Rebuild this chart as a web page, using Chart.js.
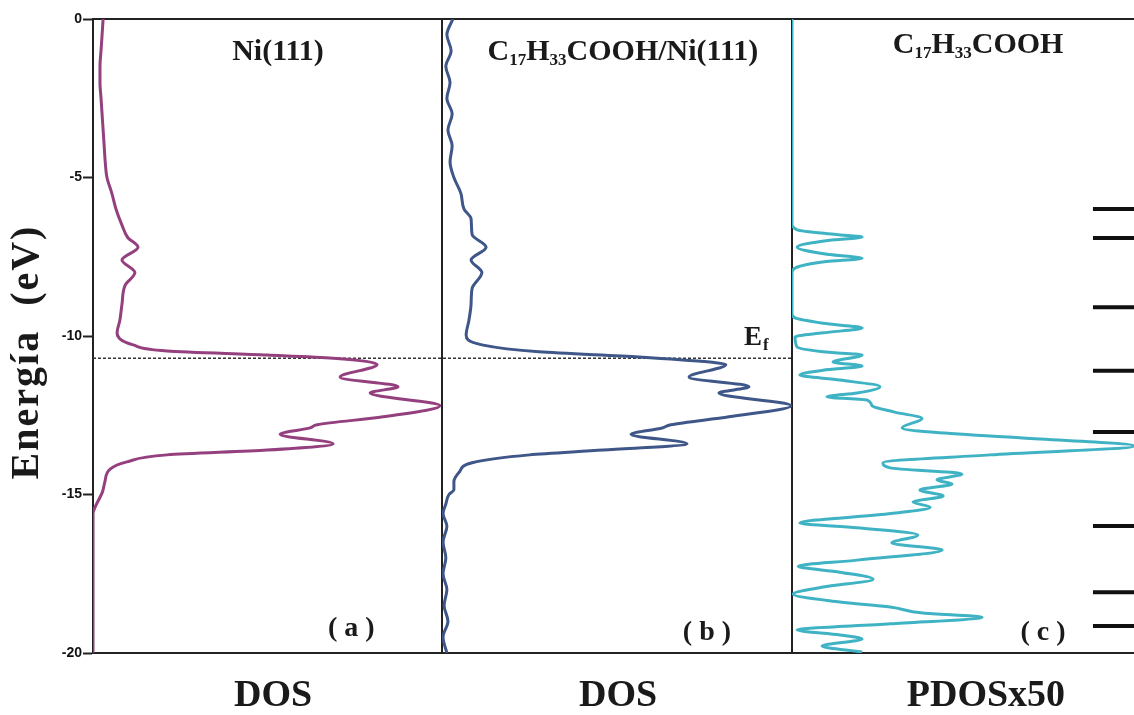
<!DOCTYPE html>
<html>
<head>
<meta charset="utf-8">
<script src="https://cdn.jsdelivr.net/npm/chart.js@4.4.1/dist/chart.umd.min.js"></script>
<style>
  html, body { margin: 0; padding: 0; background: #fff; }
  #wrap { position: relative; width: 1134px; height: 715px; }
</style>
</head>
<body>
<div id="wrap"><canvas id="dosChart"></canvas></div>
<script>
// energy tick labels (eV)
const energyTicks = [0, -5, -10, -15, -20];
const fermiLevel = -10.7;

// (a) Ni(111) DOS
const niEnergy = [0, -0.5, -1, -1.5, -2, -2.5, -3, -3.5, -4, -4.5, -5, -5.5, -6, -6.5, -6.9, -7.2, -7.6, -8.0, -8.4, -9.0, -9.5, -9.9,
  -10.28, -10.47, -10.6, -10.7, -10.9, -11.3, -11.6, -11.8, -12.2, -12.55, -12.8, -12.9, -13.1, -13.4, -13.6, -13.75, -13.97,
  -14.2, -14.6, -14.8, -14.95, -15.4, -15.6, -20];
const niDos = [2.9, 2.6, 2.3, 2.0, 2.0, 2.3, 2.6, 2.9, 3.2, 3.5, 4.0, 5.4, 6.6, 8.3, 10.0, 12.9, 8.3, 12.0, 9.2, 8.3, 7.7, 6.9,
  11.5, 21.2, 49.9, 68.8, 81.4, 70.8, 87.4, 79.4, 99.4, 83.1, 64.2, 62.2, 53.6, 68.8, 49.9, 21.2, 9.7,
  4.9, 3.4, 3.0, 2.6, 0.6, 0, 0];

// (b) C17H33COOH/Ni(111) DOS
const adsEnergy = [0, -0.5, -1, -1.5, -2, -2.5, -3, -3.5, -4, -4.5, -5, -5.5, -6, -6.3, -6.8, -7.2, -7.6, -8.0, -8.5, -9.0, -9.5, -9.97,
  -10.28, -10.5, -10.66, -10.75, -10.9, -11.3, -11.6, -11.8, -12.2, -12.55, -12.8, -12.9, -13.1, -13.4, -13.6, -13.75, -14.0,
  -14.3, -14.6, -14.85, -15.0, -15.3, -15.6, -16, -16.5, -17, -17.5, -18, -18.5, -19, -19.5, -20];
const adsDos = [3.1, 1.4, 2.6, 1.1, 2.3, 1.4, 2.9, 1.7, 2.9, 2.3, 3.4, 5.4, 6.3, 8.3, 8.6, 12.6, 8.3, 11.4, 8.6, 8.3, 7.7, 6.9,
  11.4, 27.7, 56.3, 68, 81.1, 70.6, 87.7, 79.1, 99.7, 82, 65.4, 62.9, 54.0, 70.0, 46, 25, 8.6,
  4.9, 3.4, 3.4, 2.0, 1.1, 0.3, 1.4, 0.3, 1.1, 0.3, 1.4, 0.6, 1.7, 0.3, 1.4];

// (c) C17H33COOH PDOS x50
const molEnergy = [0, -6.45, -6.65, -6.8, -6.88, -6.98, -7.2, -7.43, -7.55, -7.65, -7.85, -8.0, -9.3, -9.43, -9.6, -9.75, -9.9, -10.03,
  -10.35, -10.5, -10.6, -10.82, -10.95, -11.08, -11.23, -11.39, -11.6, -11.8, -11.92, -12.02, -12.2, -12.4, -12.6, -12.9, -13.03,
  -13.22, -13.47, -13.75, -14.0, -14.16, -14.35, -14.54, -14.67, -14.86, -15.05, -15.24, -15.4, -15.6, -15.9, -16.05, -16.28,
  -16.53, -16.75, -17.07, -17.26, -17.45, -17.67, -17.92, -18.14, -18.39, -18.55, -18.74, -18.87, -19.08, -19.27, -19.43, -19.56,
  -19.78, -19.97];
const molDos = [0, 0, 1.5, 13, 20.5, 11, 1.5, 11, 20.5, 10, 1, 0, 0, 0.9, 9.1, 20.5, 9.1, 0.9,
  1.5, 9.1, 20.5, 12, 20.5, 9.1, 2.3, 14, 25.7, 19, 10.2, 22, 23.4, 30, 38, 32.2, 40.4,
  67.5, 100, 57.9, 26.6, 28.7, 49.7, 42.4, 46.8, 37.4, 44.2, 35.4, 40.4, 29, 2.3, 19, 36.8,
  29.2, 43.9, 19, 1.8, 14, 23.7, 9.1, 0.3, 14, 28.7, 38.3, 55.6, 28.7, 1.5, 14, 20.5,
  8.8, 20.5];

// molecular energy levels (right side bars)
const levelEnergies = [-5.99, -6.91, -9.09, -11.1, -13.03, -15.99, -18.08, -19.15];

const toPoints = (es, ds) => es.map((e, i) => ({ x: ds[i], y: e }));

const serif = '"Liberation Serif", "Times New Roman", serif';

function drawRich(ctx, parts, cx, baseline, size, subSize) {
  const big = `bold ${size}px ${serif}`;
  const small = `bold ${subSize}px ${serif}`;
  let w = 0;
  parts.forEach(p => { ctx.font = p.sub ? small : big; w += ctx.measureText(p.t).width; });
  let x = cx - w / 2;
  ctx.textAlign = 'left';
  ctx.textBaseline = 'alphabetic';
  parts.forEach(p => {
    ctx.font = p.sub ? small : big;
    ctx.fillText(p.t, x, p.sub ? baseline + size * 0.18 : baseline);
    x += ctx.measureText(p.t).width;
  });
}

const decor = {
  id: 'decor',
  beforeDatasetsDraw(chart) {
    const { ctx, chartArea, scales } = chart;
    const { xa, xb, xc, y } = scales;
    ctx.save();
    ctx.strokeStyle = '#222';
    ctx.lineWidth = 2;
    // top border and panel separators
    ctx.beginPath();
    ctx.moveTo(chartArea.left, chartArea.top);
    ctx.lineTo(chart.width, chartArea.top);
    ctx.moveTo(xa.right, chartArea.top);
    ctx.lineTo(xa.right, chartArea.bottom);
    ctx.moveTo(xb.right, chartArea.top);
    ctx.lineTo(xb.right, chartArea.bottom);
    ctx.stroke();
    // Fermi level
    const yf = y.getPixelForValue(fermiLevel);
    ctx.setLineDash([3, 2]);
    ctx.lineWidth = 1.5;
    ctx.strokeStyle = '#333';
    ctx.beginPath();
    ctx.moveTo(xa.left, yf);
    ctx.lineTo(xb.right, yf);
    ctx.stroke();
    ctx.setLineDash([]);
    // energy levels in panel (c)
    ctx.strokeStyle = '#111';
    ctx.lineWidth = 4;
    ctx.beginPath();
    levelEnergies.forEach(e => {
      const py = y.getPixelForValue(e);
      ctx.moveTo(xc.getPixelForValue(88), py);
      ctx.lineTo(xc.right, py);
    });
    ctx.stroke();
    ctx.restore();
  },
  afterDraw(chart) {
    const { ctx, scales } = chart;
    const { xa, xb, xc, y } = scales;
    ctx.save();
    ctx.fillStyle = '#1a1a1a';
    // panel titles
    drawRich(ctx, [{ t: 'Ni(111)' }], xa.getPixelForValue(53), 60, 30, 17);
    drawRich(ctx, [{ t: 'C' }, { t: '17', sub: true }, { t: 'H' }, { t: '33', sub: true }, { t: 'COOH/Ni(111)' }],
      xb.getPixelForValue(51.7), 60, 30, 17);
    drawRich(ctx, [{ t: 'C' }, { t: '17', sub: true }, { t: 'H' }, { t: '33', sub: true }, { t: 'COOH' }],
      xc.getPixelForValue(54.4), 53, 30, 17);
    // panel letters
    drawRich(ctx, [{ t: '( a )' }], xa.getPixelForValue(74), 636, 28, 16);
    drawRich(ctx, [{ t: '( b )' }], xb.getPixelForValue(75.7), 640, 28, 16);
    drawRich(ctx, [{ t: '( c )' }], xc.getPixelForValue(73.4), 640, 28, 16);
    // Fermi label
    const yf = y.getPixelForValue(fermiLevel);
    ctx.font = `bold 27px ${serif}`;
    ctx.textAlign = 'left';
    ctx.fillText('E', xb.getPixelForValue(86.3), yf - 13);
    const ew = ctx.measureText('E').width;
    ctx.font = `bold 17px ${serif}`;
    ctx.fillText('f', xb.getPixelForValue(86.3) + ew + 1, yf - 8);
    // axis labels
    drawRich(ctx, [{ t: 'DOS' }], xa.getPixelForValue(51.6), 706, 38, 20);
    drawRich(ctx, [{ t: 'DOS' }], xb.getPixelForValue(50.3), 706, 38, 20);
    drawRich(ctx, [{ t: 'PDOSx50' }], xc.getPixelForValue(56.7), 706, 38, 20);
    // energy axis title
    ctx.translate(28, 352);
    ctx.rotate(-Math.PI / 2);
    ctx.font = `bold 40px ${serif}`;
    ctx.letterSpacing = '2px';
    ctx.textAlign = 'center';
    ctx.textBaseline = 'middle';
    ctx.fillText('Energía  (eV)', 0, 0);
    ctx.restore();
  }
};

const dosAxis = (weight) => ({
  type: 'linear',
  position: 'bottom',
  stack: 'dos',
  stackWeight: weight,
  min: 0,
  max: 100,
  ticks: { display: false },
  grid: { display: false },
  border: { display: true, color: '#222', width: 2 },
  afterFit: (s) => { s.height = 62; }
});

const lineStyle = {
  pointRadius: 0,
  borderWidth: 3,
  fill: false,
  cubicInterpolationMode: 'monotone'
};

const ctx = document.getElementById('dosChart').getContext('2d');
const dosChart = new Chart(ctx, {
  type: 'line',
  data: {
    datasets: [
      { ...lineStyle, label: 'Ni(111)', data: toPoints(niEnergy, niDos), borderColor: '#94407f', xAxisID: 'xa', yAxisID: 'y' },
      { ...lineStyle, label: 'C17H33COOH/Ni(111)', data: toPoints(adsEnergy, adsDos), borderColor: '#3f5689', xAxisID: 'xb', yAxisID: 'y' },
      { ...lineStyle, label: 'C17H33COOH', data: toPoints(molEnergy, molDos), borderColor: '#3fb3c4', xAxisID: 'xc', yAxisID: 'y' }
    ]
  },
  options: {
    indexAxis: 'y',
    responsive: true,
    maintainAspectRatio: false,
    animation: false,
    layout: { padding: { top: 19, left: 0, right: 0, bottom: 0 } },
    plugins: {
      legend: { display: false },
      tooltip: { enabled: false }
    },
    scales: {
      y: {
        type: 'linear',
        position: 'left',
        min: -20,
        max: 0,
        afterBuildTicks: (s) => { s.ticks = energyTicks.map(v => ({ value: v })); },
        ticks: {
          color: '#111',
          padding: 1,
          font: { family: '"Liberation Sans", Arial, sans-serif', size: 14, weight: 'bold' }
        },
        grid: { display: true, drawOnChartArea: false, drawTicks: true, tickLength: 10, tickColor: '#222', tickWidth: 2 },
        border: { display: true, color: '#222', width: 2 },
        afterFit: (s) => { s.width = 93; }
      },
      xa: dosAxis(349),
      xb: dosAxis(350),
      xc: dosAxis(342)
    }
  },
  plugins: [decor]
});
</script>
</body>
</html>
